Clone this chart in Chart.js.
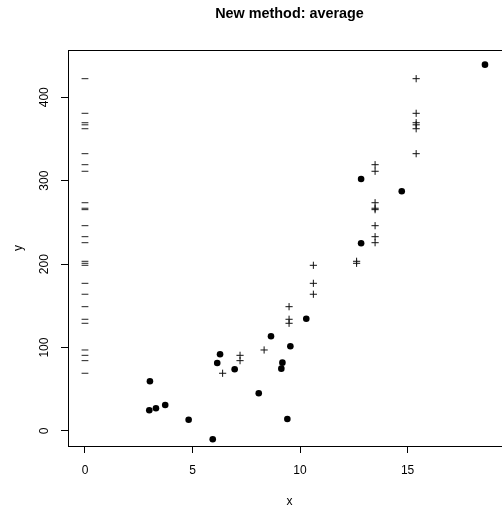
<!DOCTYPE html>
<html>
<head>
<meta charset="utf-8">
<script src="https://cdn.jsdelivr.net/npm/chart.js@4/dist/chart.umd.min.js"></script>
<style>
  html, body { margin: 0; padding: 0; background: #fff; overflow: hidden; width: 502px; height: 511px; }
  canvas { display: block; }
</style>
</head>
<body>
<canvas id="c" width="520" height="511"></canvas>
<script>
// ---- data ----
const dashY = [422.3, 380.8, 369.5, 367.0, 362.3, 332.4, 319.2, 311.3, 273.6, 267.0, 265.3,
               246.1, 232.9, 225.7, 203.4, 201.0, 198.6, 177.0, 163.9, 149.0, 133.9, 129.1,
               97.1, 90.7, 84.3, 69.2];
const crossX = [6.40, 7.21, 7.21, 8.33, 9.49, 9.49, 9.49, 10.62, 10.62, 10.62, 12.63, 12.63,
                13.49, 13.49, 13.49, 13.49, 13.49, 13.49, 13.49, 13.49,
                15.40, 15.40, 15.40, 15.40, 15.40, 15.40];
const crossY = [69.2, 90.7, 84.3, 97.1, 149.0, 133.9, 129.1, 198.6, 177.0, 163.9, 203.4, 201.0,
                319.2, 311.3, 273.6, 267.0, 265.3, 246.1, 232.9, 225.7,
                422.3, 380.8, 369.5, 367.0, 362.3, 332.4];
const dotX = [3.02, 2.99, 3.30, 3.73, 4.82, 5.94, 6.28, 6.15, 6.96, 8.08, 8.65, 9.18, 9.13,
              9.55, 9.41, 10.29, 12.84, 12.84, 14.73, 18.60];
const dotY = [59.6, 24.8, 27.2, 31.2, 13.5, -9.9, 91.9, 81.5, 74.0, 45.2, 113.5, 81.9, 74.7,
              101.5, 14.4, 134.6, 302.0, 225.0, 287.3, 439.1];
const xTicks = [0, 5, 10, 15];
const yTicks = [0, 100, 200, 300, 400];
const titleText = 'New method: average';
const xLabel = 'x';
const yLabel = 'y';

const FONT = "'Liberation Sans', Arial, Helvetica, sans-serif";

const boxPlugin = {
  id: 'box',
  beforeDatasetsDraw(chart) {
    const a = chart.chartArea, ctx = chart.ctx;
    ctx.save();
    ctx.strokeStyle = '#000';
    ctx.lineWidth = 1;
    ctx.strokeRect(Math.round(a.left) + 0.5, Math.round(a.top) + 0.5,
                   Math.round(a.right - a.left), Math.round(a.bottom - a.top));
    ctx.restore();
  }
};

new Chart(document.getElementById('c'), {
  type: 'scatter',
  data: {
    datasets: [
      {
        label: 'rug',
        data: dashY.map(y => ({ x: 0, y })),
        pointStyle: 'line',
        radius: 3.4,
        borderColor: '#222',
        borderWidth: 1,
        backgroundColor: '#222'
      },
      {
        label: 'plus',
        data: crossX.map((x, i) => ({ x, y: crossY[i] })),
        pointStyle: 'cross',
        radius: 3.6,
        borderColor: '#111',
        borderWidth: 1,
        backgroundColor: '#111'
      },
      {
        label: 'dots',
        data: dotX.map((x, i) => ({ x, y: dotY[i] })),
        pointStyle: 'circle',
        radius: 3.3,
        borderWidth: 0,
        backgroundColor: '#000'
      }
    ]
  },
  options: {
    responsive: false,
    animation: false,
    devicePixelRatio: 1,
    layout: { padding: { left: 0, right: 9, top: 0, bottom: 0 } },
    plugins: {
      legend: { display: false },
      tooltip: { enabled: false },
      title: {
        display: true,
        fullSize: false,
        text: titleText,
        color: '#000',
        font: { family: FONT, size: 14.4, weight: 'bold', lineHeight: 1.2 },
        padding: { top: 5.4, bottom: 27.3 }
      }
    },
    scales: {
      x: {
        type: 'linear',
        position: 'bottom',
        min: -0.79,
        max: 19.81,
        afterBuildTicks: s => { s.ticks = xTicks.map(v => ({ value: v })); },
        afterFit: s => { s.height = 65; },
        border: { display: false },
        grid: { drawOnChartArea: false, drawTicks: true, tickLength: 7, color: '#000', lineWidth: 1 },
        ticks: { color: '#000', font: { family: FONT, size: 12 }, padding: 10, maxRotation: 0, autoSkip: false },
        title: { display: true, text: xLabel, color: '#000', font: { family: FONT, size: 12 }, padding: { top: 0, bottom: 2 } }
      },
      y: {
        type: 'linear',
        position: 'left',
        min: -18,
        max: 456.7,
        afterBuildTicks: s => { s.ticks = yTicks.map(v => ({ value: v })); },
        afterFit: s => { s.width = 68; },
        border: { display: false },
        grid: { drawOnChartArea: false, drawTicks: true, tickLength: 7, color: '#000', lineWidth: 1 },
        ticks: { color: '#000', font: { family: FONT, size: 12 }, padding: 6, minRotation: 90, maxRotation: 90, crossAlign: 'center', autoSkip: false },
        title: { display: true, text: yLabel, color: '#000', font: { family: FONT, size: 12 }, padding: { top: 11, bottom: 0 } }
      }
    }
  },
  plugins: [boxPlugin]
});
</script>
</body>
</html>
